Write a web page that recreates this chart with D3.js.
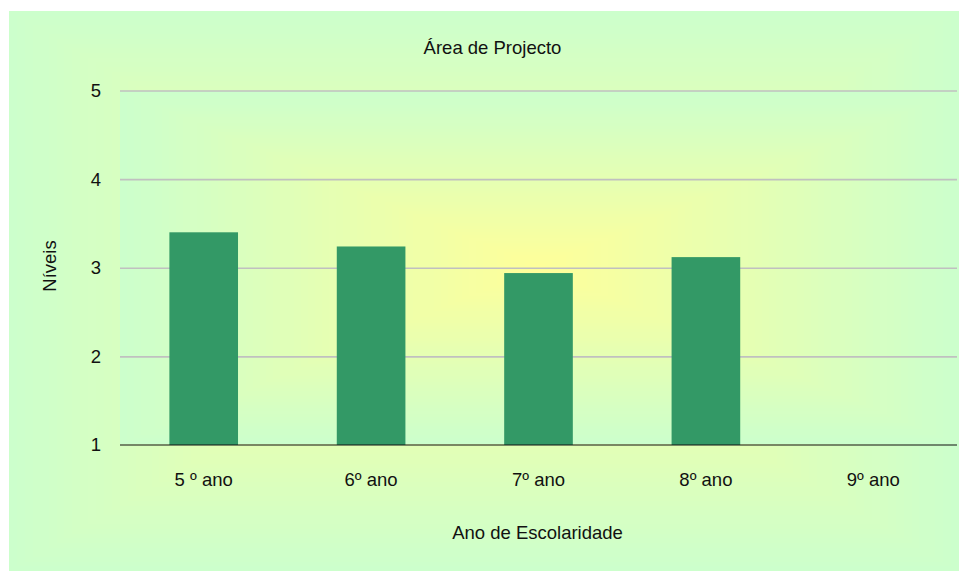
<!DOCTYPE html>
<html>
<head>
<meta charset="utf-8">
<script src="https://cdn.jsdelivr.net/npm/d3@7"></script>
<style>
  html, body { margin: 0; padding: 0; background: #ffffff; }
  svg { display: block; }
  text { font-family: "Liberation Sans", Arial, sans-serif; fill: #111; }
</style>
</head>
<body>
<svg id="chart" width="959" height="571"></svg>
<script>
// Chart values
const categories = ["5 º ano", "6º ano", "7º ano", "8º ano", "9º ano"];
const niveis = [3.40, 3.24, 2.94, 3.12, null];
const yTicks = [1, 2, 3, 4, 5];
const chartTitle = "Área de Projecto";
const xTitle = "Ano de Escolaridade";
const yTitle = "Níveis";

const W = 959, H = 571;
const svg = d3.select("#chart");

const green = "#ccffcc", yellow = "#ffff99";
const mix = d3.interpolateRgb(yellow, green);

// Rectangular "from centre" gradient built from nested bands
function centreGradient(g, x0, y0, x1, y1, steps) {
  const cx = (x0 + x1) / 2, cy = (y0 + y1) / 2;
  const hw = (x1 - x0) / 2, hh = (y1 - y0) / 2;
  const ts = d3.range(steps, 0, -1).map(i => i / steps);
  g.selectAll("rect").data(ts).join("rect")
    .attr("x", t => cx - hw * t)
    .attr("y", t => cy - hh * t)
    .attr("width", t => 2 * hw * t)
    .attr("height", t => 2 * hh * t)
    .attr("fill", t => mix(t))
    .attr("shape-rendering", "crispEdges");
}

// Chart area
centreGradient(svg.append("g"), 9, 11, W, H, 60);

const margin = { left: 120, right: 2, top: 90.5, bottom: 126 };
const x0 = margin.left, x1 = W - margin.right;
const yTop = margin.top, yBase = H - margin.bottom;

// Plot area
centreGradient(svg.append("g"), x0, yTop, x1, yBase - 1.5, 60);

const x = d3.scaleBand().domain(categories).range([x0, x1])
  .paddingInner(0.59).paddingOuter(0.295);
const y = d3.scaleLinear().domain([1, 5]).range([yBase, yTop]);

// Gridlines
const yAxis = d3.axisLeft(y).tickValues(yTicks).tickFormat(d3.format("d"))
  .tickSize(-(x1 - x0)).tickPadding(19);
const gy = svg.append("g").attr("transform", `translate(${x0},0)`).call(yAxis);
gy.select(".domain").remove();
gy.selectAll(".tick line").attr("stroke", "#c0c0c0").attr("stroke-width", 1.6)
  .filter(d => d === 1).remove();
gy.selectAll(".tick text").attr("font-size", 18.5).attr("fill", "#111")
  .attr("font-family", "'Liberation Sans', Arial, sans-serif");

// Bars
svg.append("g").selectAll("rect")
  .data(categories.map((c, i) => ({ c, v: niveis[i] })).filter(d => d.v != null))
  .join("rect")
  .attr("x", d => x(d.c))
  .attr("width", x.bandwidth())
  .attr("y", d => y(d.v))
  .attr("height", d => y(1) - y(d.v))
  .attr("fill", "#339966");

// Category axis
const xAxis = d3.axisBottom(x).tickSize(0).tickPadding(28);
const gx = svg.append("g").attr("transform", `translate(0,${yBase})`).call(xAxis);
gx.select(".domain").attr("stroke", "#111").attr("stroke-width", 1.2)
  .attr("d", `M${x0},0H${x1}`);
gx.selectAll(".tick text").attr("font-size", 18.5).attr("fill", "#111")
  .attr("font-family", "'Liberation Sans', Arial, sans-serif");

// Titles
svg.append("text").attr("x", 492.5).attr("y", 54)
  .attr("text-anchor", "middle").attr("font-size", 18.5).text(chartTitle);
svg.append("text").attr("x", 537.5).attr("y", 539)
  .attr("text-anchor", "middle").attr("font-size", 18.5).text(xTitle);
svg.append("text")
  .attr("transform", "translate(56,266) rotate(-90)")
  .attr("text-anchor", "middle").attr("font-size", 18.5).text(yTitle);
</script>
</body>
</html>
